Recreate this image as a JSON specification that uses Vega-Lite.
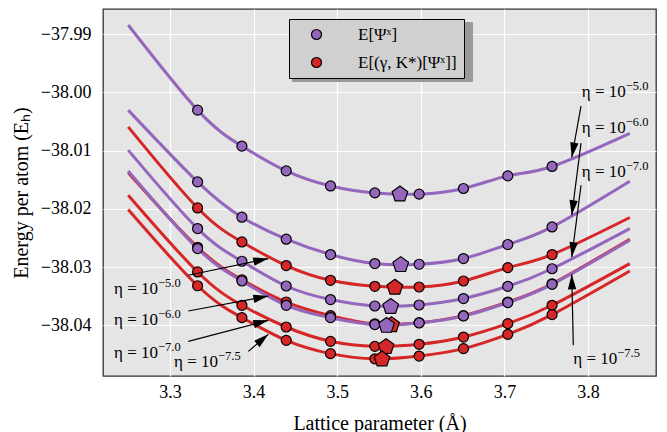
{
  "$schema": "https://vega.github.io/schema/vega-lite/v6.json",
  "width": 553,
  "height": 367,
  "autosize": {"type": "none"},
  "padding": {"left": 103, "top": 9, "right": 11, "bottom": 56},
  "background": "#ffffff",
  "datasets": {
    "curves": [
      {"c": "P5", "m": "E[Ψˣ]", "k": "end", "x": 3.25, "E": -37.98845},
      {"c": "P5", "m": "E[Ψˣ]", "k": "pt", "x": 3.333, "E": -38.00306},
      {"c": "P5", "m": "E[Ψˣ]", "k": "pt", "x": 3.386, "E": -38.00924},
      {"c": "P5", "m": "E[Ψˣ]", "k": "pt", "x": 3.439, "E": -38.01349},
      {"c": "P5", "m": "E[Ψˣ]", "k": "pt", "x": 3.492, "E": -38.01607},
      {"c": "P5", "m": "E[Ψˣ]", "k": "pt", "x": 3.545, "E": -38.01727},
      {"c": "P5", "m": "E[Ψˣ]", "k": "pt", "x": 3.598, "E": -38.01748},
      {"c": "P5", "m": "E[Ψˣ]", "k": "pt", "x": 3.651, "E": -38.01651},
      {"c": "P5", "m": "E[Ψˣ]", "k": "pt", "x": 3.704, "E": -38.01435},
      {"c": "P5", "m": "E[Ψˣ]", "k": "pt", "x": 3.757, "E": -38.01273},
      {"c": "P5", "m": "E[Ψˣ]", "k": "end", "x": 3.85, "E": -38.00706},

      {"c": "P6", "m": "E[Ψˣ]", "k": "end", "x": 3.25, "E": -38.00306},
      {"c": "P6", "m": "E[Ψˣ]", "k": "pt", "x": 3.333, "E": -38.01538},
      {"c": "P6", "m": "E[Ψˣ]", "k": "pt", "x": 3.386, "E": -38.02144},
      {"c": "P6", "m": "E[Ψˣ]", "k": "pt", "x": 3.439, "E": -38.02522},
      {"c": "P6", "m": "E[Ψˣ]", "k": "pt", "x": 3.492, "E": -38.02785},
      {"c": "P6", "m": "E[Ψˣ]", "k": "pt", "x": 3.545, "E": -38.02940},
      {"c": "P6", "m": "E[Ψˣ]", "k": "pt", "x": 3.598, "E": -38.02952},
      {"c": "P6", "m": "E[Ψˣ]", "k": "pt", "x": 3.651, "E": -38.02854},
      {"c": "P6", "m": "E[Ψˣ]", "k": "pt", "x": 3.704, "E": -38.02613},
      {"c": "P6", "m": "E[Ψˣ]", "k": "pt", "x": 3.757, "E": -38.02311},
      {"c": "P6", "m": "E[Ψˣ]", "k": "end", "x": 3.85, "E": -38.01526},

      {"c": "P7", "m": "E[Ψˣ]", "k": "end", "x": 3.25, "E": -38.00993},
      {"c": "P7", "m": "E[Ψˣ]", "k": "pt", "x": 3.333, "E": -38.02339},
      {"c": "P7", "m": "E[Ψˣ]", "k": "pt", "x": 3.386, "E": -38.02900},
      {"c": "P7", "m": "E[Ψˣ]", "k": "pt", "x": 3.439, "E": -38.03325},
      {"c": "P7", "m": "E[Ψˣ]", "k": "pt", "x": 3.492, "E": -38.03558},
      {"c": "P7", "m": "E[Ψˣ]", "k": "pt", "x": 3.545, "E": -38.03668},
      {"c": "P7", "m": "E[Ψˣ]", "k": "pt", "x": 3.598, "E": -38.03651},
      {"c": "P7", "m": "E[Ψˣ]", "k": "pt", "x": 3.651, "E": -38.03541},
      {"c": "P7", "m": "E[Ψˣ]", "k": "pt", "x": 3.704, "E": -38.03330},
      {"c": "P7", "m": "E[Ψˣ]", "k": "pt", "x": 3.757, "E": -38.03029},
      {"c": "P7", "m": "E[Ψˣ]", "k": "end", "x": 3.85, "E": -38.02339},

      {"c": "P75", "m": "E[Ψˣ]", "k": "end", "x": 3.25, "E": -38.01349},
      {"c": "P75", "m": "E[Ψˣ]", "k": "pt", "x": 3.333, "E": -38.02682},
      {"c": "P75", "m": "E[Ψˣ]", "k": "pt", "x": 3.386, "E": -38.03239},
      {"c": "P75", "m": "E[Ψˣ]", "k": "pt", "x": 3.439, "E": -38.03656},
      {"c": "P75", "m": "E[Ψˣ]", "k": "pt", "x": 3.492, "E": -38.03868},
      {"c": "P75", "m": "E[Ψˣ]", "k": "pt", "x": 3.545, "E": -38.03988},
      {"c": "P75", "m": "E[Ψˣ]", "k": "pt", "x": 3.598, "E": -38.03960},
      {"c": "P75", "m": "E[Ψˣ]", "k": "pt", "x": 3.651, "E": -38.03840},
      {"c": "P75", "m": "E[Ψˣ]", "k": "pt", "x": 3.704, "E": -38.03610},
      {"c": "P75", "m": "E[Ψˣ]", "k": "pt", "x": 3.757, "E": -38.03296},
      {"c": "P75", "m": "E[Ψˣ]", "k": "end", "x": 3.85, "E": -38.02540},

      {"c": "R5", "m": "E[(γ, K*)[Ψˣ]]", "k": "end", "x": 3.25, "E": -38.00593},
      {"c": "R5", "m": "E[(γ, K*)[Ψˣ]]", "k": "pt", "x": 3.333, "E": -38.01985},
      {"c": "R5", "m": "E[(γ, K*)[Ψˣ]]", "k": "pt", "x": 3.386, "E": -38.02569},
      {"c": "R5", "m": "E[(γ, K*)[Ψˣ]]", "k": "pt", "x": 3.439, "E": -38.02974},
      {"c": "R5", "m": "E[(γ, K*)[Ψˣ]]", "k": "pt", "x": 3.492, "E": -38.03227},
      {"c": "R5", "m": "E[(γ, K*)[Ψˣ]]", "k": "pt", "x": 3.545, "E": -38.03330},
      {"c": "R5", "m": "E[(γ, K*)[Ψˣ]]", "k": "pt", "x": 3.598, "E": -38.03342},
      {"c": "R5", "m": "E[(γ, K*)[Ψˣ]]", "k": "pt", "x": 3.651, "E": -38.03239},
      {"c": "R5", "m": "E[(γ, K*)[Ψˣ]]", "k": "pt", "x": 3.704, "E": -38.03009},
      {"c": "R5", "m": "E[(γ, K*)[Ψˣ]]", "k": "pt", "x": 3.757, "E": -38.02785},
      {"c": "R5", "m": "E[(γ, K*)[Ψˣ]]", "k": "end", "x": 3.85, "E": -38.02149},

      {"c": "R6", "m": "E[(γ, K*)[Ψˣ]]", "k": "end", "x": 3.25, "E": -38.01380},
      {"c": "R6", "m": "E[(γ, K*)[Ψˣ]]", "k": "pt", "x": 3.333, "E": -38.02660},
      {"c": "R6", "m": "E[(γ, K*)[Ψˣ]]", "k": "pt", "x": 3.386, "E": -38.03218},
      {"c": "R6", "m": "E[(γ, K*)[Ψˣ]]", "k": "pt", "x": 3.439, "E": -38.03600},
      {"c": "R6", "m": "E[(γ, K*)[Ψˣ]]", "k": "pt", "x": 3.492, "E": -38.03833},
      {"c": "R6", "m": "E[(γ, K*)[Ψˣ]]", "k": "pt", "x": 3.545, "E": -38.03974},
      {"c": "R6", "m": "E[(γ, K*)[Ψˣ]]", "k": "pt", "x": 3.598, "E": -38.03954},
      {"c": "R6", "m": "E[(γ, K*)[Ψˣ]]", "k": "pt", "x": 3.651, "E": -38.03833},
      {"c": "R6", "m": "E[(γ, K*)[Ψˣ]]", "k": "pt", "x": 3.704, "E": -38.03600},
      {"c": "R6", "m": "E[(γ, K*)[Ψˣ]]", "k": "pt", "x": 3.757, "E": -38.03287},
      {"c": "R6", "m": "E[(γ, K*)[Ψˣ]]", "k": "end", "x": 3.85, "E": -38.02522},

      {"c": "R7", "m": "E[(γ, K*)[Ψˣ]]", "k": "end", "x": 3.25, "E": -38.01766},
      {"c": "R7", "m": "E[(γ, K*)[Ψˣ]]", "k": "pt", "x": 3.333, "E": -38.03084},
      {"c": "R7", "m": "E[(γ, K*)[Ψˣ]]", "k": "pt", "x": 3.386, "E": -38.03656},
      {"c": "R7", "m": "E[(γ, K*)[Ψˣ]]", "k": "pt", "x": 3.439, "E": -38.04029},
      {"c": "R7", "m": "E[(γ, K*)[Ψˣ]]", "k": "pt", "x": 3.492, "E": -38.04275},
      {"c": "R7", "m": "E[(γ, K*)[Ψˣ]]", "k": "pt", "x": 3.545, "E": -38.04361},
      {"c": "R7", "m": "E[(γ, K*)[Ψˣ]]", "k": "pt", "x": 3.598, "E": -38.04326},
      {"c": "R7", "m": "E[(γ, K*)[Ψˣ]]", "k": "pt", "x": 3.651, "E": -38.04201},
      {"c": "R7", "m": "E[(γ, K*)[Ψˣ]]", "k": "pt", "x": 3.704, "E": -38.03971},
      {"c": "R7", "m": "E[(γ, K*)[Ψˣ]]", "k": "pt", "x": 3.757, "E": -38.03656},
      {"c": "R7", "m": "E[(γ, K*)[Ψˣ]]", "k": "end", "x": 3.85, "E": -38.02940},

      {"c": "R75", "m": "E[(γ, K*)[Ψˣ]]", "k": "end", "x": 3.25, "E": -38.02012},
      {"c": "R75", "m": "E[(γ, K*)[Ψˣ]]", "k": "pt", "x": 3.333, "E": -38.03321},
      {"c": "R75", "m": "E[(γ, K*)[Ψˣ]]", "k": "pt", "x": 3.386, "E": -38.03868},
      {"c": "R75", "m": "E[(γ, K*)[Ψˣ]]", "k": "pt", "x": 3.439, "E": -38.04258},
      {"c": "R75", "m": "E[(γ, K*)[Ψˣ]]", "k": "pt", "x": 3.492, "E": -38.04486},
      {"c": "R75", "m": "E[(γ, K*)[Ψˣ]]", "k": "pt", "x": 3.545, "E": -38.04576},
      {"c": "R75", "m": "E[(γ, K*)[Ψˣ]]", "k": "pt", "x": 3.598, "E": -38.04528},
      {"c": "R75", "m": "E[(γ, K*)[Ψˣ]]", "k": "pt", "x": 3.651, "E": -38.04400},
      {"c": "R75", "m": "E[(γ, K*)[Ψˣ]]", "k": "pt", "x": 3.704, "E": -38.04155},
      {"c": "R75", "m": "E[(γ, K*)[Ψˣ]]", "k": "pt", "x": 3.757, "E": -38.03816},
      {"c": "R75", "m": "E[(γ, K*)[Ψˣ]]", "k": "end", "x": 3.85, "E": -38.03067}
    ],
    "minima": [
      {"c": "P5", "m": "E[Ψˣ]", "x": 3.575, "E": -38.01750},
      {"c": "P6", "m": "E[Ψˣ]", "x": 3.576, "E": -38.02962},
      {"c": "P7", "m": "E[Ψˣ]", "x": 3.564, "E": -38.03680},
      {"c": "P75", "m": "E[Ψˣ]", "x": 3.559, "E": -38.04005},
      {"c": "R5", "m": "E[(γ, K*)[Ψˣ]]", "x": 3.569, "E": -38.03352},
      {"c": "R6", "m": "E[(γ, K*)[Ψˣ]]", "x": 3.565, "E": -38.03995},
      {"c": "R7", "m": "E[(γ, K*)[Ψˣ]]", "x": 3.5585, "E": -38.04370},
      {"c": "R75", "m": "E[(γ, K*)[Ψˣ]]", "x": 3.5536, "E": -38.04582}
    ],
    "labels": [
      {"x": 3.7925, "E": -38.00088, "t": "η = 10", "s": "−5.0"},
      {"x": 3.7925, "E": -38.00706, "t": "η = 10", "s": "−6.0"},
      {"x": 3.7925, "E": -38.01452, "t": "η = 10", "s": "−7.0"},
      {"x": 3.7824, "E": -38.04658, "t": "η = 10", "s": "−7.5"},
      {"x": 3.2330, "E": -38.03455, "t": "η = 10", "s": "−5.0"},
      {"x": 3.2330, "E": -38.04000, "t": "η = 10", "s": "−6.0"},
      {"x": 3.2330, "E": -38.04555, "t": "η = 10", "s": "−7.0"},
      {"x": 3.3048, "E": -38.04716, "t": "η = 10", "s": "−7.5"}
    ],
    "arrows": [
      {"x": 3.7916, "E": -38.00237, "x2": 3.7805, "E2": -38.01119, "a": 190.3},
      {"x": 3.7916, "E": -38.00873, "x2": 3.7805, "E2": -38.02110, "a": 187.4},
      {"x": 3.7916, "E": -38.01595, "x2": 3.7805, "E2": -38.02832, "a": 187.4},
      {"x": 3.7824, "E": -38.04344, "x2": 3.7805, "E2": -38.03124, "a": 358.7},
      {"x": 3.3219, "E": -38.03141, "x2": 3.4176, "E2": -38.02854, "a": 78.2},
      {"x": 3.3219, "E": -38.03754, "x2": 3.4176, "E2": -38.03497, "a": 79.4},
      {"x": 3.3219, "E": -38.04275, "x2": 3.4176, "E2": -38.03914, "a": 75.3},
      {"x": 3.3937, "E": -38.04447, "x2": 3.4176, "E2": -38.04155, "a": 49.6}
    ]
  },
  "encoding": {
    "x": {
      "field": "x", "type": "quantitative",
      "scale": {"domain": [3.21986, 3.8813], "nice": false, "zero": false},
      "axis": {"values": [3.3, 3.4, 3.5, 3.6, 3.7, 3.8], "format": ".1f", "title": "Lattice parameter (Å)", "labelPadding": 7, "titlePadding": 12}
    },
    "y": {
      "field": "E", "type": "quantitative",
      "scale": {"domain": [-38.0487, -37.9857], "nice": false, "zero": false},
      "axis": {"values": [-38.04, -38.03, -38.02, -38.01, -38.0, -37.99], "format": ".2f", "title": "Energy per atom (Eₕ)", "labelPadding": 12, "titlePadding": 9}
    }
  },
  "layer": [
    {
      "data": {"name": "curves"},
      "transform": [{"filter": "datum.k == 'pt'"}],
      "mark": {"type": "point", "shape": "circle", "size": 10, "opacity": 0},
      "encoding": {
        "color": {"field": "m", "type": "nominal", "scale": {"domain": ["E[(γ, K*)[Ψˣ]]", "E[Ψˣ]"], "range": ["#9a9a9a", "#9a9a9a"]},
          "legend": {"orient": "none", "legendX": 189, "legendY": 13, "title": null, "symbolType": "circle", "symbolSize": 100, "symbolOpacity": 0, "symbolStrokeWidth": 0, "labelExpr": "''", "labelFont": "Liberation Serif", "labelFontSize": 17, "labelOpacity": 0, "padding": 7, "fillColor": "#9a9a9a", "strokeColor": "#9a9a9a", "symbolOffset": 12, "labelOffset": 137, "rowPadding": 10, "labelLimit": 300}}
      }
    },
    {
      "data": {"name": "curves"},
      "transform": [{"filter": "datum.m != 'E[Ψˣ]'"}],
      "mark": {"type": "line", "interpolate": "natural", "strokeWidth": 3, "stroke": "#d62728"},
      "encoding": {"detail": {"field": "c"}}
    },
    {
      "data": {"name": "curves"},
      "transform": [{"filter": "datum.m == 'E[Ψˣ]'"}],
      "mark": {"type": "line", "interpolate": "natural", "strokeWidth": 3, "stroke": "#9467bd"},
      "encoding": {"detail": {"field": "c"}}
    },
    {
      "data": {"name": "curves"},
      "transform": [{"filter": "datum.k == 'pt' && datum.m != 'E[Ψˣ]'"}],
      "mark": {"type": "point", "shape": "circle", "filled": true, "size": 100, "stroke": "#000000", "strokeWidth": 1.2, "opacity": 1},
      "encoding": {
        "fill": {"field": "m", "type": "nominal", "scale": {"domain": ["E[Ψˣ]", "E[(γ, K*)[Ψˣ]]"], "range": ["#9467bd", "#d62728"]},
          "legend": {"orient": "none", "legendX": 186, "legendY": 10, "title": null, "symbolType": "circle", "symbolSize": 100, "symbolStrokeColor": "#000000", "symbolStrokeWidth": 1.2, "symbolOpacity": 1, "labelFont": "Liberation Serif", "labelFontSize": 17, "labelColor": "#000000", "padding": 7, "fillColor": "#d0d0d0", "strokeColor": "#000000", "symbolOffset": 12, "labelOffset": 33, "rowPadding": 10, "labelLimit": 300}}
      }
    },
    {
      "data": {"name": "curves"},
      "transform": [{"filter": "datum.k == 'pt' && datum.m == 'E[Ψˣ]'"}],
      "mark": {"type": "point", "shape": "circle", "filled": true, "size": 100, "stroke": "#000000", "strokeWidth": 1.2, "opacity": 1},
      "encoding": {"fill": {"field": "m", "type": "nominal"}}
    },
    {
      "data": {"name": "minima"},
      "transform": [{"filter": "datum.m != 'E[Ψˣ]'"}],
      "mark": {"type": "point", "shape": "M0,-1L0.951,-0.309L0.588,0.809L-0.588,0.809L-0.951,-0.309Z", "filled": true, "size": 270, "stroke": "#000000", "strokeWidth": 1.2, "opacity": 1},
      "encoding": {"fill": {"field": "m", "type": "nominal"}}
    },
    {
      "data": {"name": "minima"},
      "transform": [{"filter": "datum.m == 'E[Ψˣ]'"}],
      "mark": {"type": "point", "shape": "M0,-1L0.951,-0.309L0.588,0.809L-0.588,0.809L-0.951,-0.309Z", "filled": true, "size": 270, "stroke": "#000000", "strokeWidth": 1.2, "opacity": 1},
      "encoding": {"fill": {"field": "m", "type": "nominal"}}
    },
    {
      "data": {"name": "arrows"},
      "mark": {"type": "rule", "stroke": "#000000", "strokeWidth": 1.2},
      "encoding": {"x2": {"field": "x2"}, "y2": {"field": "E2"}}
    },
    {
      "data": {"name": "arrows"},
      "mark": {"type": "point", "shape": "M0,0L-0.28,1L0.28,1Z", "filled": true, "size": 900, "fill": "#000000", "strokeWidth": 0, "opacity": 1},
      "encoding": {
        "x": {"field": "x2", "type": "quantitative"},
        "y": {"field": "E2", "type": "quantitative"},
        "angle": {"field": "a", "type": "quantitative", "scale": null}
      }
    },
    {
      "data": {"name": "labels"},
      "mark": {"type": "text", "align": "left", "baseline": "alphabetic", "font": "Liberation Serif", "fontSize": 17, "fill": "#000000"},
      "encoding": {"text": {"field": "t"}}
    },
    {
      "data": {"name": "labels"},
      "mark": {"type": "text", "align": "left", "baseline": "alphabetic", "font": "Liberation Serif", "fontSize": 12.5, "dx": 44, "dy": -7, "fill": "#000000"},
      "encoding": {"text": {"field": "s"}}
    }
  ],
  "config": {
    "view": {"fill": "#e5e5e5", "stroke": "#333333", "strokeWidth": 1.3},
    "axis": {
      "grid": true, "gridColor": "#ffffff", "gridWidth": 1.2, "gridOpacity": 1,
      "domain": false, "ticks": false, "tickSize": 0,
      "labelFont": "Liberation Serif", "labelFontSize": 18, "labelColor": "#000000",
      "titleFont": "Liberation Serif", "titleFontSize": 20, "titleFontWeight": "normal", "titleColor": "#000000"
    }
  }
}
